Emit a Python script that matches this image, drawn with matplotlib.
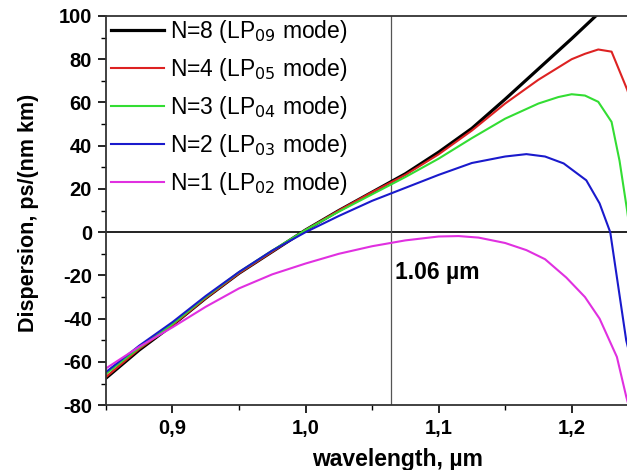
import numpy as np
import matplotlib
matplotlib.use('Agg')
from matplotlib import pyplot as plt
from matplotlib.ticker import MultipleLocator, FuncFormatter

plt.rcParams['font.family'] = ['Liberation Sans', 'DejaVu Sans']
plt.rcParams['axes.unicode_minus'] = False

# dispersion curves, ps/(nm km) vs wavelength in um
x_n8 = [0.85, 0.875, 0.9, 0.925, 0.95, 0.975, 1.0, 1.025, 1.05, 1.075, 1.1, 1.125, 1.15, 1.175, 1.2, 1.225]
d_n8 = [-67.5, -54.5, -43, -30.5, -19, -9, 1, 10, 18.5, 27, 37, 48, 61.5, 75.5, 89.5, 104]

x_n4 = [0.85, 0.875, 0.9, 0.925, 0.95, 0.975, 1.0, 1.025, 1.05, 1.075, 1.1, 1.125, 1.15, 1.175, 1.2, 1.21, 1.22, 1.23, 1.2417, 1.245]
d_n4 = [-67, -54, -43, -30.5, -19, -9, 1, 10, 18.5, 26.5, 36, 47, 59.5, 70.5, 80, 82.5, 84.5, 83.5, 66, 60]

x_n3 = [0.85, 0.875, 0.9, 0.925, 0.95, 0.975, 1.0, 1.025, 1.05, 1.075, 1.1, 1.125, 1.15, 1.175, 1.19, 1.2, 1.21, 1.22, 1.23, 1.236, 1.2417, 1.245]
d_n3 = [-65.5, -53.5, -42.5, -30, -18.5, -8.5, 1, 9.5, 17.5, 25.5, 34, 43.5, 52.5, 59.5, 62.5, 63.8, 63.2, 60.3, 51, 33, 10, -5]

x_n2 = [0.85, 0.875, 0.9, 0.925, 0.95, 0.975, 1.0, 1.025, 1.05, 1.075, 1.1, 1.125, 1.15, 1.166, 1.18, 1.194, 1.211, 1.221, 1.229, 1.235, 1.241, 1.245]
d_n2 = [-64.7, -52.5, -41.6, -29.5, -18.4, -8.5, 0, 7.5, 14.5, 20.5, 26.5, 32, 35, 36.1, 35, 31.8, 24, 13.3, 0, -25, -50, -60]

x_n1 = [0.85, 0.875, 0.9, 0.925, 0.95, 0.975, 1.0, 1.025, 1.05, 1.075, 1.1, 1.115, 1.13, 1.15, 1.166, 1.18, 1.196, 1.21, 1.221, 1.234, 1.241, 1.245]
d_n1 = [-63, -53, -44, -34.5, -26, -19.5, -14.5, -10, -6.5, -3.8, -2, -1.8, -2.5, -5, -8.3, -12.5, -21, -30, -40, -57.7, -76, -85]

labels = ['N=8 (LP$_{09}$ mode)', 'N=4 (LP$_{05}$ mode)', 'N=3 (LP$_{04}$ mode)',
          'N=2 (LP$_{03}$ mode)', 'N=1 (LP$_{02}$ mode)']
colors = ['#000000', '#dd2222', '#33dd33', '#1a1acc', '#e030e0']

lambda_mark = 1.064

fig = plt.figure(figsize=(6.27, 4.70), dpi=100)
ax = fig.add_axes([0.169, 0.138, 0.831, 0.828])

series = [(x_n8, d_n8), (x_n4, d_n4), (x_n3, d_n3), (x_n2, d_n2), (x_n1, d_n1)]
for i, (xs, ds) in enumerate(series):
    lw = 2.3 if i == 0 else 1.5
    ax.plot(xs, ds, color=colors[i], lw=lw, label=labels[i])

ax.axhline(0, color='#222222', lw=1.4, zorder=0)
ax.axvline(lambda_mark, color='#555555', lw=0.9, zorder=0)
ax.text(lambda_mark + 0.003, -18.5, '1.06 \u00b5m', fontsize=16.5, fontweight='bold',
        va='center', ha='left')

ax.set_xlim(0.85, 1.2416)
ax.set_ylim(-80, 100)
ax.xaxis.set_major_locator(MultipleLocator(0.1))
ax.xaxis.set_minor_locator(MultipleLocator(0.05))
ax.yaxis.set_major_locator(MultipleLocator(20))
ax.yaxis.set_minor_locator(MultipleLocator(10))
ax.xaxis.set_major_formatter(FuncFormatter(lambda v, p: ('%.1f' % v).replace('.', ',')))

ax.tick_params(which='major', direction='out', length=6, width=1.2, labelsize=14.5, pad=4)
ax.tick_params(which='minor', direction='out', length=3.5, width=1.0)
ax.tick_params(axis='x', which='both', top=False)
for lab in ax.get_xticklabels() + ax.get_yticklabels():
    lab.set_fontweight('bold')

ax.spines['right'].set_visible(False)
for s in ['left', 'bottom', 'top']:
    ax.spines[s].set_linewidth(1.3)
    ax.spines[s].set_color('#333333')

ax.set_xlabel('wavelength, \u00b5m', fontsize=16.5, fontweight='bold')
ax.set_ylabel('Dispersion, ps/(nm km)', fontsize=15.5, fontweight='bold')
ax.xaxis.set_label_coords(0.56, -0.11)
ax.yaxis.set_label_coords(-0.148, 0.494)
ax.yaxis.label.set_verticalalignment('center')

leg = ax.legend(loc='upper left', frameon=False, fontsize=16.5, handlelength=2.3,
                handletextpad=0.25, labelspacing=0.48, borderaxespad=0.0,
                borderpad=0.1, bbox_to_anchor=(0.006, 1.0))

fig.savefig('out.png', dpi=100)
